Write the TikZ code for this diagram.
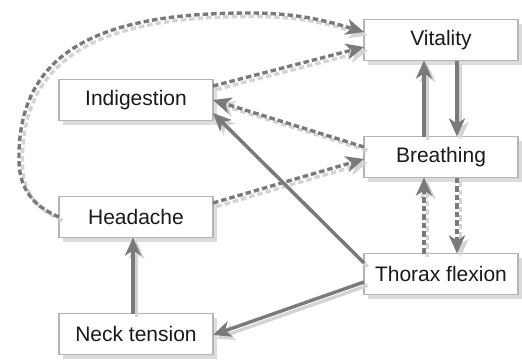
\documentclass[tikz,border=0pt]{standalone}
\usepackage{fontspec}
\setmainfont{Liberation Sans}
\usetikzlibrary{arrows.meta,shadows}
\definecolor{linedark}{HTML}{7A7A7A}
\definecolor{lineshadow}{HTML}{D4D4D4}
\definecolor{boxborder}{HTML}{B4B4B4}
\definecolor{boxshadow}{HTML}{DCDCDC}
\definecolor{textcol}{HTML}{1A1A1A}
\tikzset{
  concept/.style={rectangle, draw=boxborder, line width=1.1pt, fill=white,
    minimum width=154pt, minimum height=41pt, outer sep=0pt, inner sep=0pt,
    text=textcol, font=\fontsize{21}{24}\selectfont,
    general shadow={fill=boxshadow, shadow xshift=4pt, shadow yshift=-4pt}},
  tipped/.style={-{Stealth[length=18pt,width=16pt,inset=5pt]}},
  solidlink/.style={tipped, line width=3.4pt, draw=linedark},
  dashlink/.style={tipped, line width=3.4pt, draw=linedark, dash pattern=on 5.5pt off 3pt},
  solidshade/.style={tipped, line width=3.4pt, draw=lineshadow},
  dashshade/.style={tipped, line width=3.4pt, draw=lineshadow, dash pattern=on 5.5pt off 3pt},
}
\begin{document}
\begin{tikzpicture}[x=1pt,y=-1pt]
\useasboundingbox[fill=white] (0,0) rectangle (522,359);
\node[concept] (vit) at (441,40) {Vitality};
\node[concept] (ind) at (136,100) {Indigestion};
\node[concept] (bre) at (441,157) {Breathing};
\node[concept] (hea) at (136,217) {Headache};
\node[concept] (tho) at (441,274) {Thorax flexion};
\node[concept] (nec) at (136,334) {Neck tension};

% shadows
\begin{scope}[transform canvas={shift={(3.5pt,-3.5pt)}}]
\draw[dashshade] (hea.west) .. controls (30,205) and (19,185) .. (19,160)
  .. controls (17,40) and (120,13) .. (250,13)
  .. controls (300,13) and (330,22) .. ([yshift=8pt]vit.west);
\draw[dashshade] ([yshift=14pt]ind.east) -- ([yshift=-7pt]vit.west);
\draw[dashshade] ([yshift=10pt]bre.west) -- (ind.east);
\draw[dashshade] ([yshift=14pt]hea.east) -- ([yshift=-2pt]bre.west);
\draw[solidshade] ([yshift=11pt]tho.west) -- ([yshift=-13pt]ind.east);
\draw[solidshade] ([yshift=-8pt]tho.west) -- ([yshift=-1pt]nec.east);
\draw[solidshade] ([xshift=-3pt]nec.north) -- ([xshift=-3pt]hea.south);
\draw[solidshade] ([xshift=-17pt]bre.north) -- ([xshift=-17pt]vit.south);
\draw[solidshade] ([xshift=16pt]vit.south) -- ([xshift=16pt]bre.north);
\draw[dashshade] ([xshift=-17pt]tho.north) -- ([xshift=-17pt]bre.south);
\draw[dashshade] ([xshift=16pt]bre.south) -- ([xshift=16pt]tho.north);
\end{scope}

% main connectors
\draw[dashlink] (hea.west) .. controls (30,205) and (19,185) .. (19,160)
  .. controls (17,40) and (120,13) .. (250,13)
  .. controls (300,13) and (330,22) .. ([yshift=8pt]vit.west);
\draw[dashlink] ([yshift=14pt]ind.east) -- ([yshift=-7pt]vit.west);
\draw[dashlink] ([yshift=10pt]bre.west) -- (ind.east);
\draw[dashlink] ([yshift=14pt]hea.east) -- ([yshift=-2pt]bre.west);
\draw[solidlink] ([yshift=11pt]tho.west) -- ([yshift=-13pt]ind.east);
\draw[solidlink] ([yshift=-8pt]tho.west) -- ([yshift=-1pt]nec.east);
\draw[solidlink] ([xshift=-3pt]nec.north) -- ([xshift=-3pt]hea.south);
\draw[solidlink] ([xshift=-17pt]bre.north) -- ([xshift=-17pt]vit.south);
\draw[solidlink] ([xshift=16pt]vit.south) -- ([xshift=16pt]bre.north);
\draw[dashlink] ([xshift=-17pt]tho.north) -- ([xshift=-17pt]bre.south);
\draw[dashlink] ([xshift=16pt]bre.south) -- ([xshift=16pt]tho.north);
\end{tikzpicture}
\end{document}
